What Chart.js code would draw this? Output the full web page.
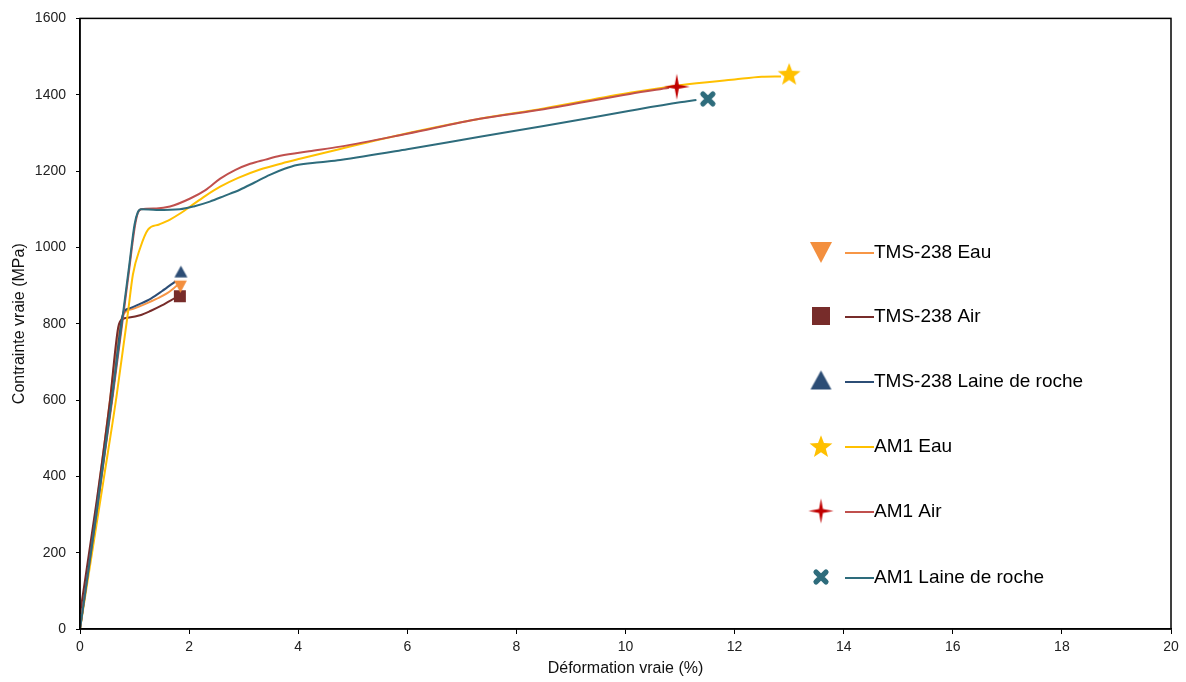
<!DOCTYPE html>
<html lang="fr">
<head>
<meta charset="utf-8">
<title>Contrainte - déformation</title>
<script src="https://cdn.jsdelivr.net/npm/chart.js"></script>
<style>
  html, body { margin: 0; padding: 0; background: #fff; }
  .wrap { width: 1186px; height: 682px; }
</style>
</head>
<body>
<div class="wrap"><canvas id="chart" width="1186" height="682"></canvas></div>
<script>
// données (déformation en %, contrainte en MPa)
var tmsEauX = [0, 0.3, 0.55, 0.72, 0.8, 1.0, 1.2, 1.4, 1.6, 1.78];
var tmsEauY = [0, 320, 600, 790, 825, 840, 852, 865, 880, 900];

var tmsAirX = [0, 0.3, 0.55, 0.7, 0.78, 0.9, 1.1, 1.3, 1.5, 1.75];
var tmsAirY = [40, 330, 600, 790, 812, 816, 822, 834, 848, 868];

var tmsLaineX = [0, 0.3, 0.6, 0.8, 0.9, 1.1, 1.3, 1.5, 1.75];
var tmsLaineY = [0, 310, 620, 830, 840, 852, 866, 885, 911];

var am1EauX = [0, 0.43, 0.67, 0.88, 0.97, 1.1, 1.25, 1.45, 1.65, 1.85, 2.02, 2.3, 2.57, 2.9, 3.3, 3.7, 4.03, 4.77, 6, 7.33, 8.5, 10.08, 11, 12, 12.5, 12.85];
var am1EauY = [0, 389, 610, 830, 929, 997, 1047, 1060, 1073, 1090, 1107, 1135, 1159, 1182, 1204, 1220, 1232, 1258, 1299, 1337, 1364, 1405, 1425, 1440, 1447, 1448];

var am1AirX = [0, 0.3, 0.6, 0.9, 1.0, 1.06, 1.12, 1.4, 1.65, 2.02, 2.3, 2.57, 2.85, 3.12, 3.4, 3.67, 4.2, 4.77, 6, 7.33, 8.5, 10.08, 10.8];
var am1AirY = [0, 300, 610, 940, 1050, 1090, 1100, 1102, 1107, 1128, 1150, 1180, 1203, 1219, 1230, 1240, 1252, 1264, 1298, 1337, 1362, 1402, 1418];

var am1LaineX = [0, 0.3, 0.6, 0.9, 1.0, 1.06, 1.12, 1.4, 1.83, 2.1, 2.38, 2.65, 2.93, 3.2, 3.48, 3.75, 3.98, 4.4, 4.77, 6, 7.33, 8.5, 10.08, 11.0, 11.3];
var am1LaineY = [0, 300, 620, 950, 1060, 1092, 1100, 1098, 1100, 1108, 1120, 1135, 1151, 1170, 1190, 1206, 1216, 1223, 1229, 1257, 1290, 1318, 1358, 1380, 1386];

// points de rupture (marqueurs)
var ruptureX = [1.84, 1.83, 1.85, 13.0, 10.94, 11.51];
var ruptureY = [898, 872, 935, 1455, 1421, 1389];

var labels = ["TMS-238 Eau", "TMS-238 Air", "TMS-238 Laine de roche", "AM1 Eau", "AM1 Air", "AM1 Laine de roche"];
var lineColors = ["#F79646", "#772C2A", "#2C4D75", "#FFC000", "#C0504D", "#2E6C7C"];
var markerColors = ["#F38F3E", "#772C2A", "#2C4D75", "#FFC000", "#C00000", "#2E6C7C"];
var markerShapes = ["triDown", "square", "triUp", "star5", "star4", "cross"];
// tailles : dans le graphe / dans la légende
var markerSizes = [13, 12, 13, 24, 26, 16];
var legendSizes = [22, 18, 21, 24, 25, 16];

function pts(xs, ys) {
    return xs.map(function(x, i) { return {x: x, y: ys[i]}; });
}

// dessin des marqueurs sur un petit canvas
function makeMarker(shape, color, size) {
    var s = Math.ceil(size) + 4;
    var c = document.createElement("canvas");
    c.width = s; c.height = s;
    var g = c.getContext("2d");
    var m = s / 2, h = size / 2;
    g.fillStyle = color;
    g.strokeStyle = color;
    g.beginPath();
    if (shape == "triDown") {
        g.moveTo(m - h, m - h * 0.9); g.lineTo(m + h, m - h * 0.9); g.lineTo(m, m + h);
        g.closePath(); g.fill();
    } else if (shape == "triUp") {
        g.moveTo(m - h, m + h * 0.8); g.lineTo(m + h, m + h * 0.8); g.lineTo(m, m - h);
        g.closePath(); g.fill();
    } else if (shape == "square") {
        g.rect(m - h, m - h, size, size); g.fill();
    } else if (shape == "star5") {
        for (var i = 0; i < 10; i++) {
            var r = i % 2 == 0 ? h : h * 0.42;
            var a = -Math.PI / 2 + i * Math.PI / 5;
            var px = m + r * Math.cos(a), py = m + h * 0.1 + r * Math.sin(a);
            if (i == 0) g.moveTo(px, py); else g.lineTo(px, py);
        }
        g.closePath(); g.fill();
    } else if (shape == "star4") {
        for (var j = 0; j < 8; j++) {
            var a2 = -Math.PI / 2 + j * Math.PI / 4;
            var r2 = j % 2 == 0 ? h : h * 0.22;
            var qx = m + r2 * Math.cos(a2), qy = m + r2 * Math.sin(a2);
            if (j == 0) g.moveTo(qx, qy); else g.lineTo(qx, qy);
        }
        g.closePath(); g.fill();
    } else if (shape == "cross") {
        g.lineWidth = size * 0.33;
        g.lineCap = "round";
        var d = h * 0.62;
        g.moveTo(m - d, m - d); g.lineTo(m + d, m + d);
        g.moveTo(m + d, m - d); g.lineTo(m - d, m + d);
        g.stroke();
    }
    return c;
}

var markerImgs = markerShapes.map(function(sh, i) { return makeMarker(sh, markerColors[i], markerSizes[i]); });
var legendImgs = markerShapes.map(function(sh, i) { return makeMarker(sh, markerColors[i], legendSizes[i]); });

var seriesX = [tmsEauX, tmsAirX, tmsLaineX, am1EauX, am1AirX, am1LaineX];
var seriesY = [tmsEauY, tmsAirY, tmsLaineY, am1EauY, am1AirY, am1LaineY];

var datasets = [];
// courbes
for (var k = 0; k < 6; k++) {
    datasets.push({
        label: labels[k],
        data: pts(seriesX[k], seriesY[k]),
        showLine: true,
        borderColor: lineColors[k],
        backgroundColor: lineColors[k],
        borderWidth: 2,
        pointRadius: 0,
        cubicInterpolationMode: "monotone",
        order: 6 - k
    });
}
// marqueurs de rupture
for (var k2 = 0; k2 < 6; k2++) {
    datasets.push({
        label: labels[k2] + " rupture",
        data: [{x: ruptureX[k2], y: ruptureY[k2]}],
        showLine: false,
        pointStyle: markerImgs[k2],
        pointRadius: 10,
        order: 0
    });
}

// cadre + légende dessinée à la main (marqueur + trait + texte)
var legendPlugin = {
    id: "customLegend",
    afterDraw: function(chart) {
        var ctx = chart.ctx;
        var a = chart.chartArea;
        ctx.save();
        ctx.strokeStyle = "#000";
        ctx.lineWidth = 1.5;
        ctx.strokeRect(a.left, a.top, a.right - a.left, a.bottom - a.top);

        var rows = [252, 316, 381, 446, 511, 577];
        ctx.font = "19px 'Liberation Sans', Arial, sans-serif";
        ctx.textBaseline = "middle";
        ctx.fillStyle = "#000";
        for (var i = 0; i < 6; i++) {
            var y = rows[i];
            var img = legendImgs[i];
            ctx.drawImage(img, 821 - img.width / 2, y - img.height / 2);
            ctx.strokeStyle = lineColors[i];
            ctx.lineWidth = 2;
            ctx.beginPath();
            ctx.moveTo(845, y + 1);
            ctx.lineTo(874, y + 1);
            ctx.stroke();
            ctx.fillText(labels[i], 874, y + 1);
        }
        ctx.restore();
    }
};

var chart = new Chart(document.getElementById("chart"), {
    type: "scatter",
    data: { datasets: datasets },
    options: {
        responsive: false,
        animation: false,
        layout: { padding: { top: 14, right: 15, left: 0, bottom: 0 } },
        plugins: {
            legend: { display: false },
            tooltip: { enabled: false }
        },
        scales: {
            x: {
                type: "linear",
                min: 0, max: 20,
                ticks: {
                    stepSize: 2,
                    color: "#222",
                    padding: 5,
                    font: { family: "'Liberation Sans', Arial, sans-serif", size: 14 },
                    callback: function(v) { return String(v); }
                },
                grid: { drawOnChartArea: false, drawTicks: true, tickLength: 5, color: "#000", tickWidth: 1 },
                border: { color: "#000", width: 1.5 },
                title: {
                    display: true,
                    text: "Déformation vraie (%)",
                    color: "#111",
                    font: { family: "'Liberation Sans', Arial, sans-serif", size: 16 },
                    padding: { top: 0, bottom: 4 }
                },
                afterFit: function(scale) { scale.height = 53; }
            },
            y: {
                type: "linear",
                min: 0, max: 1600,
                ticks: {
                    stepSize: 200,
                    color: "#222",
                    padding: 10,
                    font: { family: "'Liberation Sans', Arial, sans-serif", size: 14 },
                    callback: function(v) { return String(v); }
                },
                grid: { drawOnChartArea: false, drawTicks: true, tickLength: 4, color: "#000", tickWidth: 1 },
                border: { color: "#000", width: 1.5 },
                title: {
                    display: true,
                    text: "Contrainte vraie (MPa)",
                    color: "#111",
                    font: { family: "'Liberation Sans', Arial, sans-serif", size: 16 },
                    padding: { top: 10, bottom: 0 }
                },
                afterFit: function(scale) { scale.width = 80; }
            }
        }
    },
    plugins: [legendPlugin]
});
</script>
</body>
</html>
